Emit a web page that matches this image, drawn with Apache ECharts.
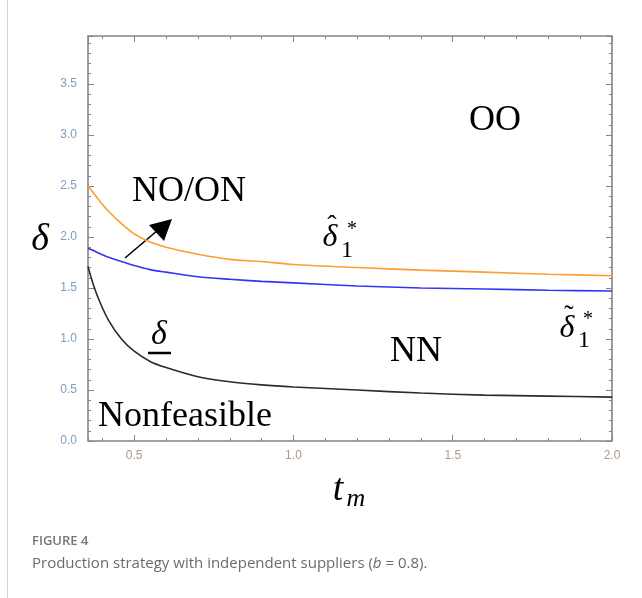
<!DOCTYPE html>
<html>
<head>
<meta charset="utf-8">
<script src="https://cdn.jsdelivr.net/npm/echarts@6/dist/echarts.min.js"></script>
<style>
html, body { margin: 0; padding: 0; background: #fff; }
#chart { width: 642px; height: 598px; }
</style>
</head>
<body>
<div id="chart"></div>
<script>
const tm = [0.355, 0.37, 0.39, 0.42, 0.46, 0.5, 0.55, 0.6, 0.7, 0.8, 0.9, 1.0, 1.2, 1.4, 1.6, 1.8, 2.0]
// delta-hat_1^* (orange), delta-tilde_1^* (blue), lower delta (black)
const deltaHat = [2.50, 2.44, 2.36, 2.25, 2.13, 2.03, 1.95, 1.90, 1.83, 1.78, 1.76, 1.73, 1.70, 1.675, 1.655, 1.635, 1.62]
const deltaTilde = [1.89, 1.87, 1.84, 1.80, 1.76, 1.72, 1.68, 1.655, 1.61, 1.585, 1.565, 1.55, 1.52, 1.50, 1.49, 1.478, 1.47]
const deltaLow = [1.71, 1.55, 1.38, 1.18, 1.00, 0.88, 0.78, 0.72, 0.63, 0.58, 0.55, 0.53, 0.50, 0.47, 0.45, 0.44, 0.43]

const X_MIN = 0.355
const X_MAX = 2.0
const Y_MIN = 0
const Y_MAX = 3.97

const frameColor = '#858585'
const serif = '"Liberation Serif", "DejaVu Serif", serif'

const pairs = ys => tm.map((t, i) => [t, ys[i]])

const xMajor = (pos, labels) => ({
  type: 'value', position: pos, min: X_MIN, max: X_MAX, splitNumber: 3,
  axisLine: { show: false },
  axisTick: { inside: true, length: 6, lineStyle: { color: frameColor, width: 1 } },
  axisLabel: {
    show: labels, showMinLabel: false, margin: 9, color: '#b0998a', fontSize: 12,
    fontFamily: '"Liberation Sans", Arial, sans-serif', formatter: v => v.toFixed(1),
  },
  splitLine: { show: false },
})
const xMinor = pos => ({
  type: 'value', position: pos, min: X_MIN, max: X_MAX, splitNumber: 16,
  axisLine: { show: false },
  axisTick: { inside: true, length: 3, lineStyle: { color: frameColor, width: 1 } },
  axisLabel: { show: false },
  splitLine: { show: false },
})
const yAxisOf = (pos, labels) => ({
  type: 'value', position: pos, min: Y_MIN, max: Y_MAX, interval: 0.5,
  axisLine: { show: false },
  axisTick: { inside: true, length: 6, lineStyle: { color: frameColor, width: 1 } },
  minorTick: { show: true, splitNumber: 5, length: 3, lineStyle: { color: frameColor, width: 1 } },
  axisLabel: {
    show: labels, showMaxLabel: false, margin: 11, color: '#7a9ec4', fontSize: 12,
    fontFamily: '"Liberation Sans", Arial, sans-serif', formatter: v => v.toFixed(1),
  },
  splitLine: { show: false },
})

const curve = (name, ys, color) => ({
  name, type: 'line', data: pairs(ys), xAxisIndex: 0, yAxisIndex: 0,
  smooth: 0.3, symbol: 'none',
  lineStyle: { color, width: 1.6 },
})

const txt = (x, y, text, size, extra) => ({
  type: 'text', x, y, z: 10,
  style: Object.assign({ text, fill: '#000', font: size + 'px ' + serif, align: 'center', verticalAlign: 'middle' }, extra || {}),
})
const itxt = (x, y, text, size) => txt(x, y, text, size, { font: 'italic ' + size + 'px ' + serif })

const chart = echarts.init(document.getElementById('chart'))
chart.setOption({
  animation: false,
  backgroundColor: '#fff',
  grid: { left: 88, right: 30, top: 36, bottom: 157, show: true, borderColor: frameColor, borderWidth: 1.6, backgroundColor: 'transparent' },
  xAxis: [xMajor('bottom', true), xMinor('bottom'), xMajor('top', false), xMinor('top')],
  yAxis: [yAxisOf('left', true), yAxisOf('right', false)],
  series: [
    curve('deltaHat', deltaHat, '#ff9c33'),
    curve('deltaTilde', deltaTilde, '#3434f5'),
    curve('deltaLow', deltaLow, '#2b2b2b'),
  ],
  graphic: [
    // page edge line
    { type: 'line', shape: { x1: 7.5, y1: 0, x2: 7.5, y2: 598 }, style: { stroke: '#d6d6d6', lineWidth: 1 } },
    // region labels
    txt(495, 121, 'OO', 36),
    txt(189, 192, 'NO/ON', 36),
    txt(416, 352, 'NN', 36),
    txt(185, 417, 'Nonfeasible', 36),
    // arrow
    { type: 'line', shape: { x1: 125, y1: 258, x2: 158, y2: 230 }, style: { stroke: '#000', lineWidth: 1.6 } },
    { type: 'polygon', shape: { points: [[172, 219], [149, 225], [164, 241]] }, style: { fill: '#000' } },
    // hat delta_1^*
    itxt(330, 238, 'δ', 32),
    txt(332, 227, 'ˆ', 28),
    txt(347, 251, '1', 24),
    txt(352, 230, '*', 20),
    // tilde delta_1^*
    itxt(567, 329, 'δ', 32),
    txt(569, 317, '˜', 28),
    txt(584, 341, '1', 24),
    txt(588, 320, '*', 20),
    // underlined delta
    itxt(159, 335, 'δ', 34),
    { type: 'line', shape: { x1: 148, y1: 353, x2: 171, y2: 353 }, style: { stroke: '#000', lineWidth: 2.5 } },
    // axis names
    itxt(40, 240, 'δ', 38),
    itxt(338, 490, 't', 38),
    itxt(356, 499, 'm', 26),
    // caption
    {
      type: 'text', x: 32, y: 541,
      style: { text: 'FIGURE 4', fill: '#767676', font: '600 13px "Open Sans", "Noto Sans", sans-serif', align: 'left', verticalAlign: 'middle' },
    },
    {
      type: 'text', x: 32, y: 564,
      style: {
        text: 'Production strategy with independent suppliers ({i|b} = 0.8).',
        fill: '#6b6b6b', font: '15px "Open Sans", "Noto Sans", sans-serif', align: 'left', verticalAlign: 'middle',
        rich: { i: { fontStyle: 'italic', fontSize: 15, fontFamily: '"Open Sans", "Noto Sans", sans-serif', fill: '#6b6b6b' } },
      },
    },
  ],
})
</script>
</body>
</html>
